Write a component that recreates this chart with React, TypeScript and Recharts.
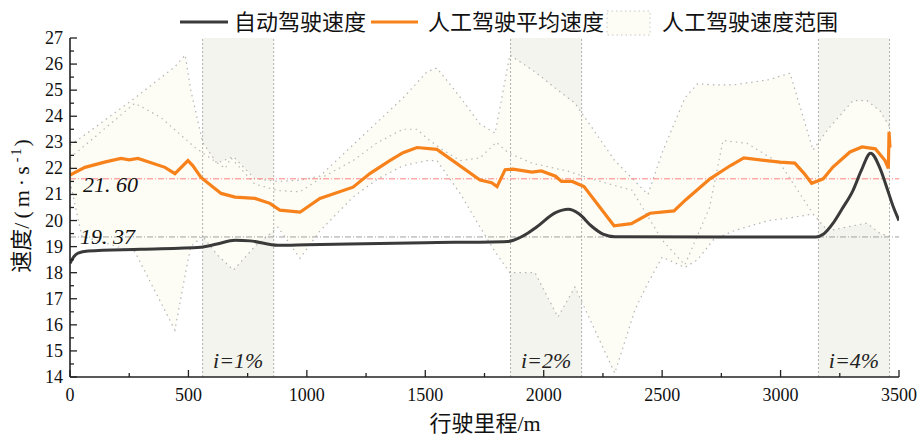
import React from 'react';
import {
  ComposedChart, Line, Area, XAxis, YAxis, ReferenceLine,
} from 'recharts';

// ---------- data ----------
const autoSpeed = [
  [0, 18.36], [15, 18.6], [34, 18.75], [76, 18.83], [300, 18.9], [553, 18.98], [620, 19.1],
  [697, 19.24], [760, 19.22], [878, 19.05], [1000, 19.07], [1500, 19.15], [1850, 19.2],
  [1900, 19.35], [1934, 19.52], [1970, 19.75], [2050, 20.3], [2103, 20.43], [2150, 20.25],
  [2200, 19.8], [2250, 19.48], [2300, 19.38], [3150, 19.37], [3180, 19.47], [3221, 19.89],
  [3260, 20.45], [3306, 21.16], [3340, 21.9], [3380, 22.58], [3420, 22.0], [3448, 21.28],
  [3475, 20.55], [3500, 20.0],
].map(([x, v]) => ({ x, v }));

const humanMean = [
  [0, 21.74], [63, 22.04], [150, 22.25], [215, 22.38], [250, 22.33], [287, 22.38], [401, 22.04],
  [443, 21.8], [498, 22.3], [519, 22.1], [553, 21.65], [638, 21.04], [697, 20.9], [781, 20.85],
  [844, 20.66], [886, 20.4], [971, 20.32], [1055, 20.85], [1195, 21.28], [1266, 21.8],
  [1350, 22.3], [1406, 22.6], [1465, 22.8], [1549, 22.73], [1731, 21.55], [1780, 21.45],
  [1803, 21.3], [1837, 21.95], [1870, 21.97], [1950, 21.86], [1990, 21.9], [2050, 21.7],
  [2075, 21.5], [2120, 21.5], [2170, 21.3], [2297, 19.8], [2370, 19.88], [2449, 20.28],
  [2550, 20.37], [2600, 20.8], [2702, 21.6], [2787, 22.1], [2845, 22.4], [2998, 22.24],
  [3060, 22.2], [3100, 21.8], [3131, 21.43], [3180, 21.6], [3221, 22.05], [3293, 22.63],
  [3344, 22.82], [3400, 22.75], [3441, 22.3], [3455, 22.0], [3458, 23.4], [3462, 22.8],
].map(([x, v]) => ({ x, v }));

// human range: [distance, min, max]
const humanRange = [
  [0, 21.5, 22.9], [50, 19.4, 23.2], [274, 18.8, 24.7], [443, 15.8, 25.9], [486, 17.9, 26.35],
  [510, 19.0, 25.0], [560, 19.4, 23.0], [620, 18.7, 22.2], [690, 18.1, 22.45], [780, 19.0, 21.6],
  [878, 19.75, 21.5], [971, 18.55, 21.55], [1055, 19.6, 21.7], [1195, 20.9, 22.9],
  [1300, 21.6, 23.8], [1406, 22.1, 24.7], [1507, 22.3, 25.7], [1549, 22.3, 25.85],
  [1650, 21.0, 24.7], [1731, 19.75, 23.7], [1795, 18.8, 23.35], [1857, 18.0, 26.35],
  [1963, 18.0, 25.7], [2060, 16.3, 25.0], [2132, 17.45, 24.5], [2300, 14.15, 22.3],
  [2386, 16.6, 21.5], [2440, 17.6, 21.0], [2500, 18.6, 22.6], [2596, 18.2, 24.7],
  [2650, 18.5, 25.25], [2715, 19.25, 25.2], [2800, 19.6, 25.2], [2950, 20.0, 25.4],
  [3040, 20.1, 25.65], [3137, 20.25, 22.7], [3200, 19.6, 23.5], [3306, 19.8, 24.6],
  [3365, 19.9, 24.6], [3420, 19.5, 24.2], [3460, 19.4, 23.6],
].map(([x, lo, hi]) => ({ x, range: [lo, hi] }));

const humanTrace = [
  [0, 22.4], [274, 24.5], [384, 23.95], [528, 22.8], [655, 22.0], [680, 22.4], [780, 21.4],
  [878, 21.15], [971, 21.1], [1055, 21.6], [1195, 22.3], [1300, 23.0], [1406, 23.5],
  [1466, 23.5], [1507, 23.15], [1575, 22.7], [1647, 22.3], [1731, 22.4], [1800, 23.0],
  [1850, 22.6], [1950, 22.2], [2100, 21.9], [2200, 21.6], [2373, 21.16], [2500, 19.25],
  [2596, 18.3], [2700, 20.5], [2757, 23.07], [2858, 22.96], [2998, 22.19], [3137, 20.26],
].map(([x, v]) => ({ x, v }));

const gradeZones = [
  { label: 'i=1%', start: 560, end: 860 },
  { label: 'i=2%', start: 1860, end: 2160 },
  { label: 'i=4%', start: 3160, end: 3460 },
];

const meanHuman = 21.6;
const meanAuto = 19.37;

const xTicks = [0, 250, 500, 750, 1000, 1250, 1500, 1750, 2000, 2250, 2500, 2750, 3000, 3250, 3500];
const yTicks = [14, 14.5, 15, 15.5, 16, 16.5, 17, 17.5, 18, 18.5, 19, 19.5, 20, 20.5, 21, 21.5, 22,
  22.5, 23, 23.5, 24, 24.5, 25, 25.5, 26, 26.5, 27];

// ---------- styles ----------
const FONT = "'Liberation Serif', 'Times New Roman', 'Noto Sans CJK SC', serif";
const CJK = "'Liberation Serif', 'Noto Sans CJK SC', serif";
const AXIS = '#222';

const XTick = (props: any) => {
  const { x, y, payload } = props;
  const major = payload.value % 500 === 0;
  return (
    <g>
      <line x1={x} x2={x} y1={y} y2={y - (major ? 7 : 4)} stroke={AXIS} strokeWidth={1.3} />
      {major && (
        <text x={x} y={y + 24} textAnchor="middle" fontFamily={FONT} fontSize={18} fill="#111">
          {payload.value}
        </text>
      )}
    </g>
  );
};

const YTick = (props: any) => {
  const { x, y, payload } = props;
  const major = Number.isInteger(payload.value);
  return (
    <g>
      <line x1={x} x2={x + (major ? 7 : 4)} y1={y} y2={y} stroke={AXIS} strokeWidth={1.3} />
      {major && (
        <text x={x - 7} y={y + 6} textAnchor="end" fontFamily={FONT} fontSize={18} fill="#111">
          {payload.value}
        </text>
      )}
    </g>
  );
};

const meanLabel = (text: string, dx: number, dy: number) => (props: any) => {
  const vb = props.viewBox || {};
  return (
    <text x={vb.x + dx} y={vb.y + dy} fontFamily={FONT} fontStyle="italic" fontSize={22} fill="#111">
      {text}
    </text>
  );
};

const zoneLabel = (text: string) => (props: any) => {
  const vb = props.viewBox || {};
  return (
    <text x={vb.x} y={vb.y + vb.height - 9} textAnchor="middle" fontFamily={FONT}
      fontStyle="italic" fontSize={22} fill="#222">
      {text}
    </text>
  );
};

export default function App() {
  return (
    <div style={{ position: 'absolute', left: 0, top: 0, width: 918, height: 436, background: '#fff' }}>
      <ComposedChart
        width={918}
        height={436}
        margin={{ top: 38, right: 19, bottom: 29, left: 10 }}
      >
        <XAxis
          dataKey="x" type="number" domain={[0, 3500]} ticks={xTicks} allowDataOverflow
          tickLine={false} tickSize={0} tickMargin={0} tick={<XTick />} height={30}
          axisLine={{ stroke: AXIS, strokeWidth: 1.6 }} interval={0}
        />
        <XAxis
          xAxisId="top" orientation="top" type="number" domain={[0, 3500]} height={0}
          tick={false} tickLine={false} axisLine={{ stroke: AXIS, strokeWidth: 1.6 }}
        />
        <YAxis
          type="number" domain={[14, 27]} ticks={yTicks} allowDataOverflow width={60}
          tickLine={false} tickSize={0} tickMargin={0} tick={<YTick />} interval={0}
          axisLine={{ stroke: AXIS, strokeWidth: 1.6 }}
        />
        <YAxis
          yAxisId="right" orientation="right" type="number" domain={[14, 27]} width={0}
          tick={false} tickLine={false} axisLine={{ stroke: AXIS, strokeWidth: 1.6 }}
        />

        {gradeZones.map((z) => (
          <Area
            key={'zone' + z.label}
            data={[{ x: z.start, range: [14, 27] }, { x: z.end, range: [14, 27] }]}
            dataKey="range" type="linear" stroke="none" fill="#f4f4ee" fillOpacity={1}
            isAnimationActive={false} legendType="none" activeDot={false} dot={false}
          />
        ))}

        <Area
          data={humanRange} dataKey="range" type="linear" stroke="#b4b4b4" strokeWidth={1.2}
          strokeDasharray="1.5 4" fill="#fdfdf5" fillOpacity={0.92}
          isAnimationActive={false} dot={false} activeDot={false}
        />
        <Line
          data={humanTrace} dataKey="v" type="linear" stroke="#b8b8b8" strokeWidth={1.2}
          strokeDasharray="1.5 4" dot={false} activeDot={false} isAnimationActive={false}
        />

        {gradeZones.map((z) => (
          <ReferenceLine key={'s' + z.label} x={z.start} stroke="#b0b0b0" strokeWidth={1}
            strokeDasharray="2 2" />
        ))}
        {gradeZones.map((z) => (
          <ReferenceLine key={'e' + z.label} x={z.end} stroke="#b0b0b0" strokeWidth={1}
            strokeDasharray="2 2" />
        ))}
        {gradeZones.map((z) => (
          <ReferenceLine key={'l' + z.label} x={(z.start + z.end) / 2} stroke="none"
            label={zoneLabel(z.label)} />
        ))}

        <ReferenceLine y={meanHuman} stroke="#ff8080" strokeWidth={1} strokeDasharray="6 2 1 2"
          label={meanLabel('21. 60', 13, 13)} />
        <ReferenceLine y={meanAuto} stroke="#a0a0a0" strokeWidth={1} strokeDasharray="6 2 1 2"
          label={meanLabel('19. 37', 10, 7)} />

        <Line
          data={autoSpeed} dataKey="v" type="monotone" stroke="#3a3a3a" strokeWidth={3}
          dot={false} activeDot={false} isAnimationActive={false}
        />
        <Line
          data={humanMean} dataKey="v" type="linear" stroke="#f7821b" strokeWidth={3.2}
          dot={false} activeDot={false} isAnimationActive={false}
        />
      </ComposedChart>

      <svg width={918} height={436} style={{ position: 'absolute', left: 0, top: 0, pointerEvents: 'none' }}>
        <line x1={180} x2={228} y1={22} y2={22} stroke="#3a3a3a" strokeWidth={3} />
        <text x={234} y={30} fontFamily={CJK} fontSize={22} fill="#111">自动驾驶速度</text>
        <line x1={371} x2={418} y1={22} y2={22} stroke="#f7821b" strokeWidth={3} />
        <text x={428} y={30} fontFamily={CJK} fontSize={22} fill="#111">人工驾驶平均速度</text>
        <rect x={607} y={11} width={43} height={24} fill="#fdfdf5" stroke="#c8c8c8"
          strokeWidth={1} strokeDasharray="1.5 3" />
        <text x={662} y={30} fontFamily={CJK} fontSize={22} fill="#111">人工驾驶速度范围</text>

        <text x={485} y={431} textAnchor="middle" fontFamily={CJK} fontSize={22} fill="#111">
          行驶里程/m
        </text>
        <text transform="translate(29,206) rotate(-90)" textAnchor="middle" fontFamily={CJK}
          fontSize={22} fill="#111">
          <tspan>速度</tspan>
          <tspan letterSpacing={4}>/(m·s</tspan>
          <tspan dy={-8} fontSize={14} letterSpacing={2}>-1</tspan>
          <tspan dy={8}>)</tspan>
        </text>
      </svg>
    </div>
  );
}
